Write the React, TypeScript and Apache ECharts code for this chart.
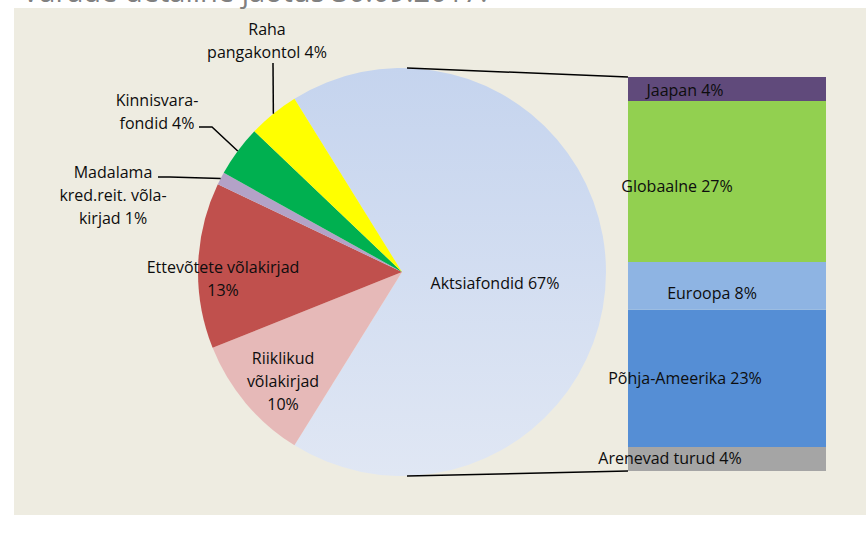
import React, { useEffect, useRef } from 'react';
import * as echarts from 'echarts';

// ---- data ----
const titleText = 'Varade detailne jaotus 30.09.2017.';
const pieNames = [
  'Aktsiafondid',
  'Riiklikud võlakirjad',
  'Ettevõtete võlakirjad',
  'Madalama kred.reit. võlakirjad',
  'Kinnisvarafondid',
  'Raha pangakontol',
];
const pieLabelTexts = [
  'Aktsiafondid',
  'Riiklikud\nvõlakirjad\n',
  'Ettevõtete võlakirjad\n',
  'Madalama\nkred.reit. võla-\nkirjad',
  'Kinnisvara-\nfondid',
  'Raha\npangakontol',
];
const pieValues = [67, 10, 13, 1, 4, 4];
const barNames = ['Arenevad turud', 'Põhja-Ameerika', 'Euroopa', 'Globaalne', 'Jaapan'];
const barValues = [4, 23, 8, 27, 4];

// ---- style / layout ----
const pieColors: any[] = [
  new echarts.graphic.LinearGradient(0, 0, 0, 1, [
    { offset: 0, color: '#c5d4ee' },
    { offset: 1, color: '#e0e7f4' },
  ]),
  '#e6b9b8',
  '#c0504d',
  '#b3a2c7',
  '#00b050',
  '#ffff00',
];
const barColors = ['#a5a5a5', '#558ed5', '#8eb4e3', '#92d050', '#604a7b'];
const FONT = 'Open Sans';
const FS = 16;
const LH = 23;
const CX = 402;
const CY = 272;
const R = 204;
const BAR = { left: 628, top: 77, width: 198, height: 394 };
// label centres (manually placed in the original)
const pieLabelPos = [
  [495, 283],
  [283, 381],
  [223, 278],
  [113, 195],
  [157, 111],
  [267, 40],
];
const barLabelOffsets = [
  [-57, -1],
  [-42, 0],
  [-15, 7],
  [-50, 5],
  [-42, 1],
];

export default function App() {
  const ref = useRef<HTMLDivElement>(null);
  useEffect(() => {
    if (!ref.current) return;
    const chart = echarts.init(ref.current, undefined, { renderer: 'svg' });
    const total = pieValues.reduce((a, b) => a + b, 0);
    const startAngle = (pieValues[0] / total) * 180;
    const midAngles: number[] = [];
    let cum = 0;
    pieValues.forEach((v) => {
      midAngles.push(startAngle - ((cum + v / 2) / total) * 360);
      cum += v;
    });
    const edge = (i: number) => {
      const a = (midAngles[i] * Math.PI) / 180;
      return [CX + R * Math.cos(a), CY - R * Math.sin(a)];
    };
    const e5 = edge(5);
    const e4 = edge(4);
    const e3 = edge(3);
    const lineStyle = { stroke: '#000', lineWidth: 1.5, fill: null };

    const barSeries = barNames.map((n, i) => ({
      type: 'bar',
      name: n,
      stack: 'aktsia',
      xAxisIndex: 0,
      yAxisIndex: 0,
      barWidth: '100%',
      data: [barValues[i]],
      itemStyle: { color: barColors[i] },
      label: {
        show: true,
        position: 'inside',
        offset: barLabelOffsets[i],
        formatter: () => `${n} ${barValues[i]}%`,
        color: '#0d0d0d',
        fontFamily: FONT,
        fontSize: FS,
      },
    }));

    chart.setOption({
      animation: false,
      backgroundColor: '#ffffff',
      grid: { left: BAR.left, top: BAR.top, width: BAR.width, height: BAR.height },
      xAxis: { type: 'category', data: ['a'], show: false },
      yAxis: {
        type: 'value',
        min: 0,
        max: barValues.reduce((a, b) => a + b, 0),
        show: false,
      },
      graphic: [
        {
          type: 'rect',
          z: -10,
          shape: { x: 14, y: 8, width: 866 - 14, height: 515 - 8 },
          style: { fill: '#eeece1' },
        },
        {
          type: 'text',
          z: -5,
          x: 22,
          y: 5,
          style: {
            text: titleText,
            fill: '#808080',
            font: `29px ${FONT}`,
            verticalAlign: 'bottom',
            lineHeight: 29,
          },
        },
        // connectors pie -> bar
        {
          type: 'line',
          z: 10,
          shape: { x1: CX + 5, y1: CY - R, x2: BAR.left, y2: BAR.top },
          style: { stroke: '#000', lineWidth: 1.5 },
        },
        {
          type: 'line',
          z: 10,
          shape: { x1: CX + 5, y1: CY + R, x2: BAR.left, y2: BAR.top + BAR.height },
          style: { stroke: '#000', lineWidth: 1.5 },
        },
        // leader lines
        {
          type: 'polyline',
          z: 10,
          shape: { points: [[Math.round(e5[0]), 63], e5] },
          style: lineStyle,
        },
        {
          type: 'polyline',
          z: 10,
          shape: { points: [[199, 127], [212, 127], e4] },
          style: lineStyle,
        },
        {
          type: 'polyline',
          z: 10,
          shape: { points: [[158, 177], [170, 177], e3] },
          style: lineStyle,
        },
      ],
      series: [
        {
          type: 'pie',
          center: [CX, CY],
          radius: [0, R],
          startAngle,
          clockwise: true,
          avoidLabelOverlap: false,
          data: pieNames.map((n, i) => ({
            name: n,
            value: pieValues[i],
            itemStyle: { color: pieColors[i] },
            label: {
              position: i <= 2 ? 'inside' : 'outside',
            },
            labelLine: { show: false },
          })),
          label: {
            show: true,
            formatter: (p: any) => {
              const t = pieLabelTexts[p.dataIndex];
              const pct = `${pieValues[p.dataIndex]}%`;
              return t.endsWith('\n') ? t + pct : t + ' ' + pct;
            },
            color: '#0d0d0d',
            fontFamily: FONT,
            fontSize: FS,
            lineHeight: LH,
            align: 'center',
          },
          labelLayout: (params: any) => {
            const p = pieLabelPos[params.dataIndex];
            return { x: p[0], y: p[1], align: 'center', verticalAlign: 'middle' };
          },
        },
        ...barSeries,
      ],
    });
    return () => chart.dispose();
  }, []);
  return (
    <div
      ref={ref}
      style={{ position: 'fixed', left: 0, top: 0, width: 866, height: 535 }}
    />
  );
}
